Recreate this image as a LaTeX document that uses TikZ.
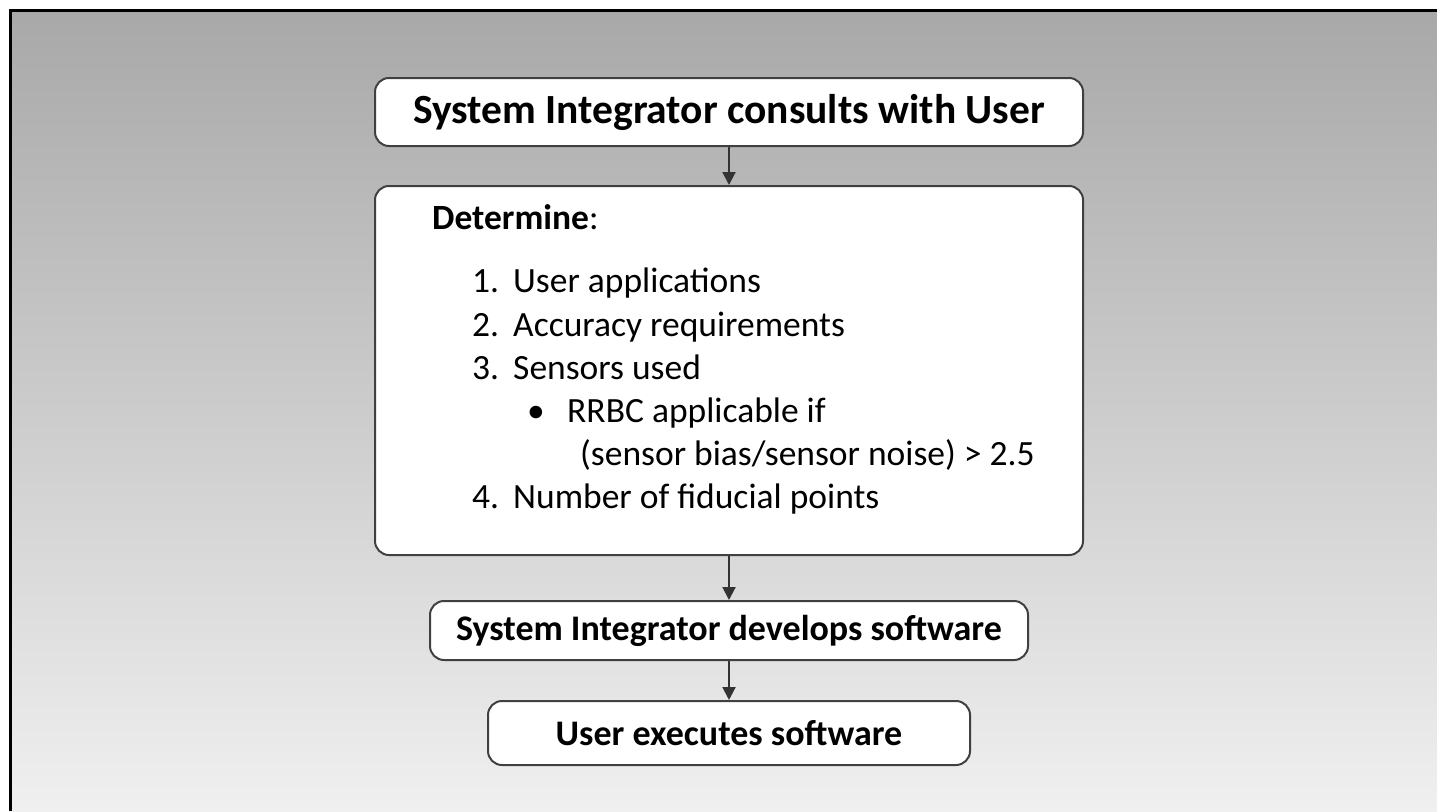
\documentclass[tikz,border=0pt]{standalone}
\usepackage{fontspec}
\setmainfont{Carlito}
\usetikzlibrary{arrows.meta}

\tikzset{
	box/.style={draw=black!75, fill=white, line width=2pt, rounded corners=14pt, inner sep=0pt, align=center, font=\bfseries\fontsize{36}{43}\selectfont},
	flow/.style={line width=2pt, draw=black!80, -{Triangle[width=13pt,length=13pt]}},
	item/.style={anchor=base west, inner sep=0pt, font=\fontsize{35.5}{43}\selectfont}
}

\begin{document}
\begin{tikzpicture}[x=1pt,y=-1pt]
	\useasboundingbox (0,0) rectangle (1437,811);
	%background
	\shade[top color=black!34, bottom color=black!6] (10,10) rectangle (1437,811);
	\draw[line width=3pt] (10,811)--(10,10)--(1437,10);
	
	%boxes
	\node[box, minimum width=708, minimum height=68, font=\bfseries\fontsize{41.5}{49}\selectfont] (consult) at (729,112) {System Integrator consults with User};
	\node[box, minimum width=708, minimum height=369] (determine) at (729,370.5) {};
	\node[box, minimum width=598, minimum height=59] (develop) at (729,630.5) {System Integrator develops software};
	\node[box, minimum width=482, minimum height=64] (execute) at (729,733) {User executes software};
	
	%arrows
	\draw[flow] (consult) -- (determine);
	\draw[flow] (determine) -- (develop);
	\draw[flow] (develop) -- (execute);
	
	%list
	\node[item, font=\bfseries\fontsize{35.5}{43}\selectfont] (head) at (432,229) {Determine\textmd{:}};
	\foreach \n/\y/\t in {1/292/User applications, 2/336/Accuracy requirements, 3/379/Sensors used, 4/508/Number of fiducial points}{
		\node[item] (num\n) at (472,\y) {\n.};
		\node[item] (item\n) at (513,\y) {\t};
	}
	\node[item] (dot) at (527,422) {\textbullet};
	\node[item] (rrbc) at (567,422) {RRBC applicable if};
	\node[item] (ratio) at (580,465) {(sensor bias/sensor noise) > 2.5};
\end{tikzpicture}
\end{document}
